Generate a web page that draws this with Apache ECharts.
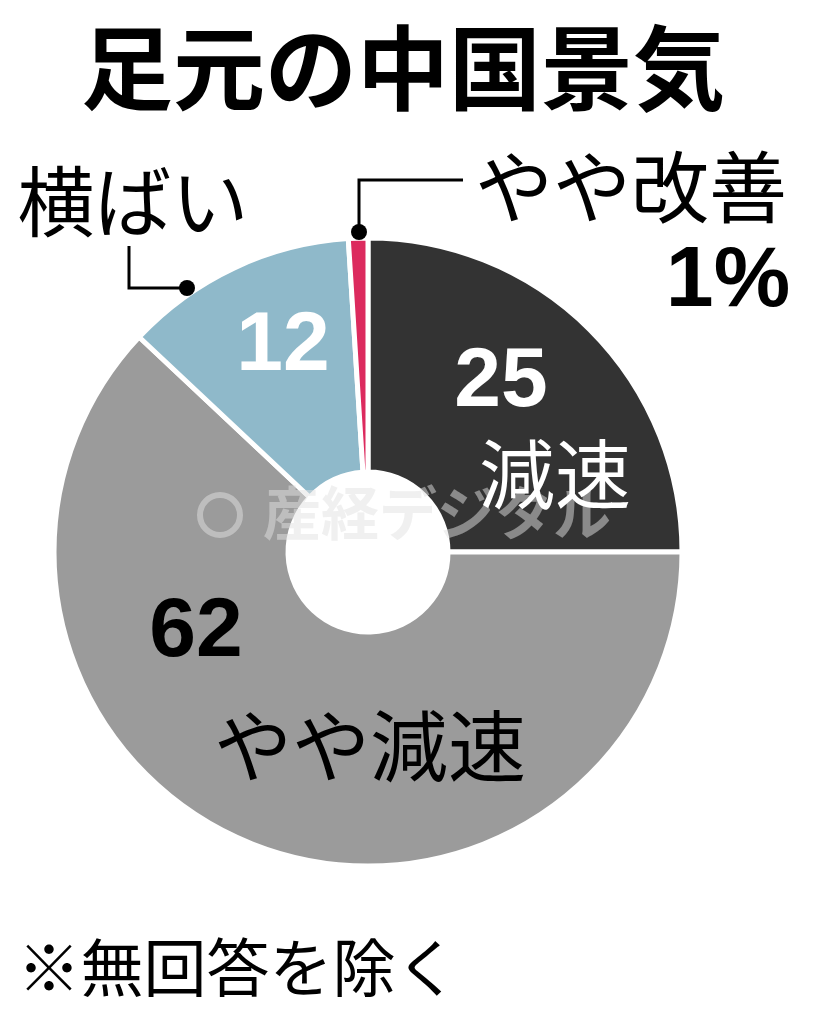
<!DOCTYPE html>
<html>
<head>
<meta charset="utf-8">
<script src="https://cdn.jsdelivr.net/npm/echarts@6/dist/echarts.min.js"></script>
<style>
html,body{margin:0;padding:0;background:#fff;}
#c{width:814px;height:1024px;}
</style>
</head>
<body>
<div id="c"></div>
<script>
const titleText = '足元の中国景気';
const categories = ['減速', 'やや減速', '横ばい', 'やや改善'];
const values = [25, 62, 12, 1];
const footnote = '※無回答を除く';
const watermark = '産経デジタル';

const sliceColors = ['#333333', '#9b9b9b', '#8fb9ca', '#dc2a5e'];
const CJK = '"Noto Sans CJK JP", "Noto Sans", sans-serif';
const NUM = '"Liberation Sans", Arial, sans-serif';

const chart = echarts.init(document.getElementById('c'), null, {renderer: 'canvas'});

function txt(text, x, y, size, weight, color, family, z) {
  return {
    type: 'text', z: z || 100,
    style: {
      text: text, x: x, y: y,
      textAlign: 'center', textVerticalAlign: 'middle',
      align: 'center', verticalAlign: 'middle',
      fontSize: size, fontWeight: weight, fontFamily: family, fill: color
    }
  };
}

const option = {
  backgroundColor: '#ffffff',
  animation: false,
  series: [{
    type: 'pie',
    center: [368, 552],
    radius: [80, 314],
    startAngle: 90,
    clockwise: true,
    label: {show: false},
    labelLine: {show: false},
    itemStyle: {borderColor: '#ffffff', borderWidth: 5},
    emphasis: {disabled: true},
    data: categories.map((c, i) => ({name: c, value: values[i], itemStyle: {color: sliceColors[i]}}))
  }],
  graphic: [
    txt(titleText, 403, 68, 92, 'bold', '#000', CJK),
    txt(footnote, 238, 967, 63, 'normal', '#000', CJK),
    // watermark
    {type: 'circle', z: 90, shape: {cx: 220, cy: 515, r: 20}, style: {fill: 'none', stroke: 'rgba(225,225,225,0.5)', lineWidth: 6}},
    txt(watermark, 437, 513, 58, 'bold', 'rgba(225,225,225,0.5)', CJK, 90),
    // slice labels
    txt(String(values[0]), 501, 383, 84, 'bold', '#fff', NUM),
    txt(categories[0], 555, 474, 76, 'normal', '#fff', CJK),
    txt(String(values[2]), 283, 347, 84, 'bold', '#fff', NUM),
    txt(String(values[1]), 196, 633, 84, 'bold', '#000', NUM),
    txt(categories[1], 370, 746, 78, 'normal', '#000', CJK),
    txt(categories[2], 133, 202, 77, 'normal', '#000', CJK),
    txt(categories[3], 631, 187, 78, 'normal', '#000', CJK),
    txt(values[3] + '%', 728, 282, 86, 'bold', '#000', NUM),
    // leader lines
    {type: 'polyline', z: 95, shape: {points: [[463, 180], [359, 180], [359, 232]]}, style: {stroke: '#000', lineWidth: 3, fill: null}},
    {type: 'circle', z: 96, shape: {cx: 359, cy: 232, r: 8}, style: {fill: '#000'}},
    {type: 'polyline', z: 95, shape: {points: [[129, 246], [129, 288], [187, 288]]}, style: {stroke: '#000', lineWidth: 3, fill: null}},
    {type: 'circle', z: 96, shape: {cx: 187, cy: 288, r: 8}, style: {fill: '#000'}}
  ]
};
chart.setOption(option);
</script>
</body>
</html>
